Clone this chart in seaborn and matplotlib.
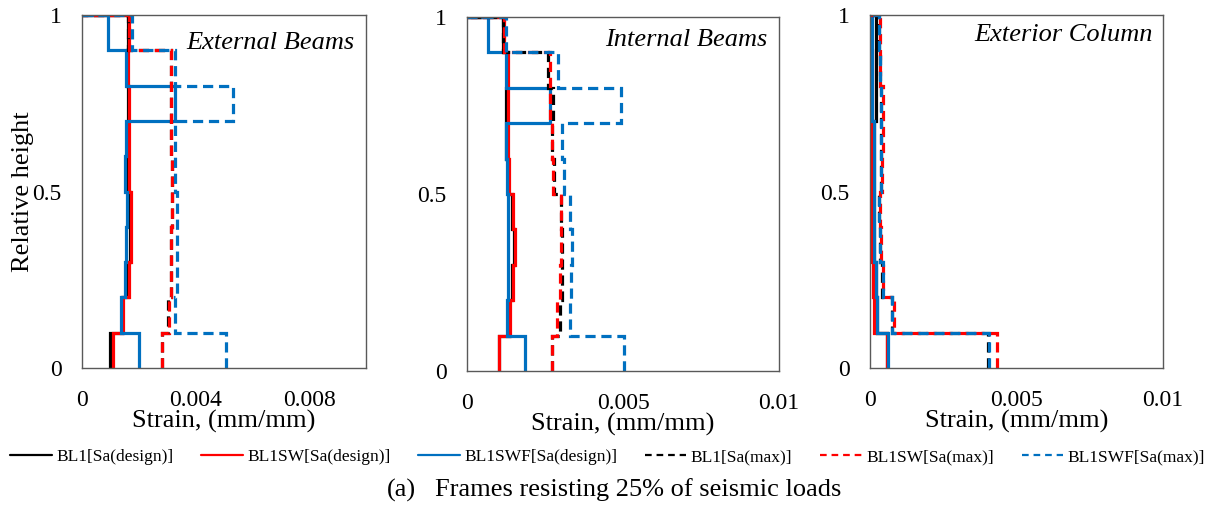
import numpy as np
import pandas as pd
import matplotlib
matplotlib.use("Agg")
import matplotlib.pyplot as plt
from matplotlib.lines import Line2D
import seaborn as sns

# ---------------- data ----------------
heights = [0.0, 0.1, 0.2, 0.3, 0.4, 0.5, 0.6, 0.7, 0.8, 0.9, 1.0]   # floor levels (relative height)
roof_strain = 0.0

series_names = ["BL1[Sa(design)]", "BL1SW[Sa(design)]", "BL1SWF[Sa(design)]",
                "BL1[Sa(max)]", "BL1SW[Sa(max)]", "BL1SWF[Sa(max)]"]
series_colors = ["#000000", "#FF0000", "#0070C0", "#000000", "#FF0000", "#0070C0"]
series_dashed = [False, False, False, True, True, True]

panel_titles = ["External Beams", "Internal Beams", "Exterior Column"]
panel_xticks = [[0, 0.004, 0.008], [0, 0.005, 0.01], [0, 0.005, 0.01]]
panel_xticklabels = [["0", "0.004", "0.008"], ["0", "0.005", "0.01"], ["0", "0.005", "0.01"]]
yticks = [0, 0.5, 1]
yticklabels = ["0", "0.5", "1"]

# strain per storey (x 1e-3), storeys 1..10
ext_bl1_design  = [1.00, 1.42, 1.62, 1.70, 1.70, 1.63, 1.63, 1.63, 1.60, 1.62]
ext_bl1sw_design = [1.08, 1.45, 1.65, 1.73, 1.73, 1.66, 1.66, 1.66, 1.62, 1.65]
ext_bl1swf_design = [2.00, 1.38, 1.53, 1.56, 1.58, 1.53, 1.55, 3.26, 1.56, 0.91]
ext_bl1_max  = [2.80, 3.04, 3.12, 3.12, 3.16, 3.16, 3.12, 3.12, 3.12, 1.63]
ext_bl1sw_max = [2.82, 3.06, 3.14, 3.14, 3.18, 3.18, 3.14, 3.14, 3.14, 1.65]
ext_bl1swf_max = [5.08, 3.29, 3.35, 3.35, 3.35, 3.29, 3.26, 5.32, 3.29, 1.76]

int_bl1_design  = [1.04, 1.35, 1.45, 1.50, 1.45, 1.33, 1.26, 1.26, 1.28, 1.15]
int_bl1sw_design = [1.04, 1.37, 1.47, 1.53, 1.47, 1.36, 1.33, 1.33, 1.30, 1.17]
int_bl1swf_design = [1.87, 1.28, 1.30, 1.33, 1.33, 1.28, 1.26, 2.67, 1.26, 0.66]
int_bl1_max  = [2.72, 2.99, 3.04, 3.04, 3.02, 2.80, 2.72, 2.77, 2.61, 1.15]
int_bl1sw_max = [2.72, 2.88, 2.99, 3.02, 3.02, 2.77, 2.72, 2.67, 2.67, 1.17]
int_bl1swf_max = [5.04, 3.29, 3.33, 3.36, 3.29, 3.12, 3.04, 4.94, 2.93, 1.26]

col_bl1_design  = [0.58, 0.25, 0.19, 0.15, 0.15, 0.15, 0.15, 0.22, 0.20, 0.20]
col_bl1sw_design = [0.58, 0.12, 0.10, 0.08, 0.08, 0.07, 0.07, 0.07, 0.06, 0.05]
col_bl1swf_design = [0.63, 0.25, 0.19, 0.13, 0.13, 0.12, 0.12, 0.08, 0.08, 0.08]
col_bl1_max  = [4.03, 0.74, 0.42, 0.34, 0.30, 0.38, 0.38, 0.38, 0.34, 0.30]
col_bl1sw_max = [4.35, 0.82, 0.44, 0.36, 0.33, 0.42, 0.44, 0.44, 0.35, 0.33]
col_bl1swf_max = [4.07, 0.76, 0.44, 0.35, 0.30, 0.39, 0.39, 0.37, 0.34, 0.31]

panels_data = [
    [ext_bl1_design, ext_bl1sw_design, ext_bl1swf_design, ext_bl1_max, ext_bl1sw_max, ext_bl1swf_max],
    [int_bl1_design, int_bl1sw_design, int_bl1swf_design, int_bl1_max, int_bl1sw_max, int_bl1swf_max],
    [col_bl1_design, col_bl1sw_design, col_bl1swf_design, col_bl1_max, col_bl1sw_max, col_bl1swf_max],
]

# ---------------- style ----------------
sns.set_style("white")
plt.rcParams["font.family"] = ["Liberation Serif", "DejaVu Serif"]
plt.rcParams["text.color"] = "black"
plt.rcParams["axes.labelcolor"] = "black"
plt.rcParams["xtick.color"] = "black"
plt.rcParams["ytick.color"] = "black"
spine_col = "#595959"

fig = plt.figure(figsize=(12.15, 5.05), dpi=100)
W, H = 1215, 505
boxes = [(82, 366, 15, 368), (467, 779, 17, 371), (870, 1163, 15, 368)]
title_pos = [(0.958, 0.921), (0.962, 0.935), (0.966, 0.943)]


def profile(values):
    v = np.asarray(values) * 1e-3
    xs = np.append(np.repeat(v, 2), roof_strain)
    ys = np.append(np.repeat(heights, 2)[1:-1], heights[-1])
    return xs, ys


for p, (l, r, t, b) in enumerate(boxes):
    ax = fig.add_axes([l / W, 1 - b / H, (r - l) / W, (b - t) / H])
    for s, name in enumerate(series_names):
        xs, ys = profile(panels_data[p][s])
        df = pd.DataFrame({"strain": xs, "height": ys})
        kw = dict(dashes=(3.2, 1.8)) if series_dashed[s] else {}
        sns.lineplot(data=df, x="strain", y="height", sort=False, estimator=None,
                     color=series_colors[s], lw=2.3, ax=ax, solid_joinstyle="miter",
                     dash_joinstyle="miter", **kw)
    ax.set_xlim(0, 0.01)
    ax.set_ylim(0, 1)
    ax.set_xticks(panel_xticks[p])
    ax.set_xticklabels(panel_xticklabels[p])
    ax.set_yticks(yticks)
    ax.set_yticklabels(yticklabels)
    ax.tick_params(axis="both", direction="in", length=6, width=1, color=spine_col,
                   labelsize=17, labelcolor="black")
    ax.tick_params(axis="x", pad=16)
    ax.tick_params(axis="y", pad=14.5)
    for sp in ax.spines.values():
        sp.set_visible(True)
        sp.set_color(spine_col)
        sp.set_linewidth(1.0)
    ax.set_xlabel("Strain, (mm/mm)", fontsize=19, color="black")
    ax.xaxis.set_label_coords(0.5, -0.118)
    if p == 0:
        ax.set_ylabel("Relative height", fontsize=19, color="black")
        ax.yaxis.set_label_coords(-0.17, 0.5)
    else:
        ax.set_ylabel("")
    ax.text(title_pos[p][0], title_pos[p][1], panel_titles[p], transform=ax.transAxes,
            ha="right", va="center", fontsize=19, style="italic", color="black")

handles = []
for s in range(len(series_names)):
    if series_dashed[s]:
        handles.append(Line2D([], [], color=series_colors[s], lw=1.6, dashes=(3.0, 2.2)))
    else:
        handles.append(Line2D([], [], color=series_colors[s], lw=1.6))
leg = fig.legend(handles, series_names, loc="center", bbox_to_anchor=(607.5 / W, 1 - 457 / H),
                 ncol=6, frameon=False, fontsize=12.5, handlelength=2.4, handletextpad=0.25,
                 columnspacing=1.6)
for txt in leg.get_texts():
    txt.set_color("black")

fig.text(387 / W, 1 - 490 / H, "(a)", ha="left", va="center", fontsize=19, color="black")
fig.text(435 / W, 1 - 490 / H, "Frames resisting 25% of seismic loads", ha="left",
         va="center", fontsize=19, color="black")

fig.savefig("out.png", dpi=100)
